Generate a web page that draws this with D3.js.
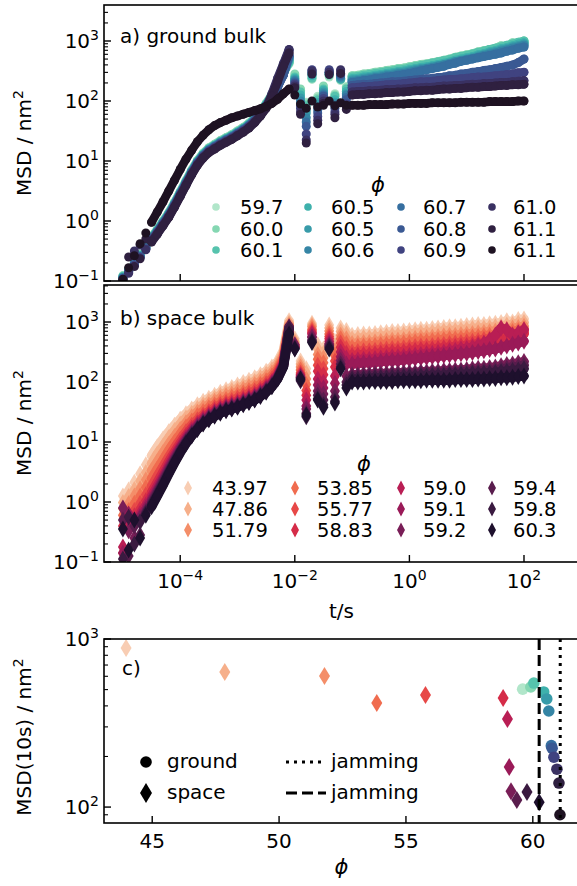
<!DOCTYPE html>
<html lang="en">
<head>
<meta charset="UTF-8">
<title>MSD ground vs space</title>
<script src="https://d3js.org/d3.v7.min.js"></script>
<style>
  body { margin: 0; background: #fff; }
  text { font-family: "DejaVu Sans", sans-serif; fill: #000; }
</style>
</head>
<body>
<div id="chart"></div>
<script>
// ---- DATA ----
// log10 of lag time t/s, shared by all curves
const logTime = [-5.0,-4.9,-4.8,-4.7,-4.6,-4.5,-4.4,-4.3,-4.2,-4.1,-4.0,-3.9,-3.8,-3.7,-3.6,-3.5,-3.4,-3.3,-3.2,-3.1,
  -3.0,-2.9,-2.8,-2.7,-2.6,-2.5,-2.4,-2.3,-2.2,-2.1,-2.0,-1.9,-1.8,-1.7,-1.6,-1.5,-1.4,-1.3,-1.2,-1.1,
  -1.0,-0.9,-0.8,-0.7,-0.6,-0.5,-0.4,-0.3,-0.2,-0.1,0.0,0.1,0.2,0.3,0.4,0.5,0.6,0.7,0.8,0.9,
  1.0,1.1,1.2,1.3,1.4,1.5,1.6,1.7,1.8,1.9,2.0];

// ground bulk, log10(MSD / nm^2)
const ground1 = [-0.92,-0.81,-0.69,-0.56,-0.42,-0.28,-0.15,-0.01,0.13,0.30,0.48,0.66,0.84,1.00,1.12,1.21,1.27,1.33,1.38,1.43,1.49,1.55,1.62,1.71,1.82,1.95,2.10,2.27,2.47,
  2.62,2.42,2.18,1.98,2.36,2.08,2.22,2.40,2.12,2.34,2.24,
  2.40,2.41,2.43,2.44,2.46,2.47,2.49,2.50,2.52,2.53,2.55,2.57,2.59,2.60,2.62,2.64,2.66,2.68,2.71,2.73,2.75,2.77,2.80,2.82,2.84,2.87,2.90,2.88,2.94,2.96,2.98];
const ground2 = [-0.91,-0.80,-0.68,-0.55,-0.41,-0.27,-0.14,0.00,0.14,0.31,0.49,0.67,0.85,1.01,1.13,1.22,1.28,1.34,1.39,1.44,1.50,1.56,1.63,1.72,1.83,1.96,2.11,2.28,2.48,
  2.66,2.45,2.20,1.95,2.40,2.05,2.25,2.42,2.10,2.36,2.22,
  2.42,2.43,2.45,2.46,2.48,2.49,2.51,2.52,2.54,2.55,2.57,2.59,2.61,2.62,2.64,2.66,2.68,2.70,2.73,2.75,2.77,2.79,2.82,2.84,2.86,2.88,2.92,2.90,2.97,2.95,3.00];
const ground3 = [-0.93,-0.82,-0.70,-0.57,-0.43,-0.29,-0.16,-0.02,0.12,0.29,0.47,0.65,0.83,0.99,1.11,1.20,1.26,1.32,1.37,1.42,1.48,1.54,1.61,1.70,1.81,1.94,2.09,2.26,2.46,
  2.64,2.40,2.15,1.92,2.38,2.02,2.20,2.44,2.08,2.38,2.20,
  2.40,2.41,2.43,2.44,2.46,2.47,2.49,2.50,2.52,2.53,2.55,2.57,2.59,2.61,2.63,2.65,2.67,2.69,2.72,2.74,2.76,2.78,2.81,2.83,2.86,2.88,2.90,2.93,2.95,2.98,3.00];
const ground4 = [-0.93,-0.82,-0.70,-0.57,-0.43,-0.29,-0.16,-0.02,0.12,0.29,0.47,0.65,0.83,0.99,1.11,1.20,1.26,1.32,1.37,1.42,1.48,1.54,1.61,1.70,1.81,1.94,2.09,2.26,2.46,
  2.68,2.38,2.10,1.85,2.42,1.98,2.18,2.45,2.02,2.36,2.16,
  2.37,2.38,2.40,2.41,2.43,2.44,2.46,2.47,2.49,2.50,2.52,2.54,2.56,2.57,2.59,2.61,2.63,2.65,2.68,2.70,2.72,2.74,2.77,2.79,2.82,2.84,2.87,2.89,2.92,2.95,2.97];
const ground5 = [-0.94,-0.83,-0.71,-0.58,-0.44,-0.30,-0.17,-0.03,0.11,0.28,0.46,0.64,0.82,0.98,1.10,1.19,1.25,1.31,1.36,1.41,1.47,1.53,1.60,1.69,1.80,1.93,2.08,2.25,2.45,
  2.70,2.36,2.05,1.80,2.44,1.95,2.15,2.46,1.98,2.38,2.12,
  2.35,2.36,2.38,2.39,2.41,2.42,2.44,2.45,2.47,2.48,2.50,2.52,2.54,2.55,2.57,2.59,2.61,2.63,2.66,2.68,2.70,2.72,2.75,2.77,2.80,2.82,2.85,2.87,2.90,2.92,2.95];
const ground6 = [-0.95,-0.84,-0.72,-0.59,-0.45,-0.31,-0.18,-0.04,0.10,0.27,0.45,0.63,0.81,0.97,1.09,1.18,1.24,1.30,1.35,1.40,1.46,1.52,1.59,1.68,1.79,1.92,2.07,2.24,2.44,
  2.72,2.34,2.00,1.72,2.46,1.90,2.12,2.47,1.95,2.40,2.10,
  2.33,2.34,2.36,2.37,2.39,2.40,2.42,2.43,2.45,2.46,2.48,2.50,2.52,2.54,2.56,2.58,2.60,2.62,2.65,2.67,2.69,2.71,2.73,2.76,2.78,2.80,2.83,2.85,2.88,2.90,2.93];
const ground7 = [-0.95,-0.84,-0.72,-0.59,-0.45,-0.31,-0.18,-0.04,0.10,0.27,0.45,0.63,0.81,0.97,1.09,1.18,1.24,1.30,1.35,1.40,1.46,1.52,1.59,1.68,1.79,1.92,2.07,2.24,2.44,
  2.74,2.32,1.96,1.65,2.48,1.85,2.10,2.48,1.92,2.42,2.06,
  2.31,2.32,2.34,2.35,2.37,2.38,2.40,2.41,2.43,2.44,2.46,2.48,2.50,2.52,2.54,2.56,2.58,2.61,2.63,2.66,2.68,2.70,2.72,2.74,2.76,2.78,2.80,2.83,2.85,2.88,2.90];
const ground8 = [-0.96,-0.85,-0.73,-0.60,-0.46,-0.32,-0.19,-0.05,0.09,0.26,0.44,0.62,0.80,0.96,1.08,1.17,1.23,1.29,1.34,1.39,1.45,1.51,1.58,1.67,1.78,1.91,2.06,2.23,2.43,
  2.76,2.30,1.92,1.58,2.50,1.80,2.08,2.50,1.88,2.44,2.02,
  2.26,2.27,2.28,2.28,2.29,2.30,2.31,2.32,2.32,2.33,2.34,2.35,2.36,2.37,2.38,2.39,2.40,2.42,2.43,2.45,2.46,2.48,2.49,2.51,2.52,2.54,2.56,2.58,2.60,2.64,2.70];
const ground9 = [-0.97,-0.86,-0.74,-0.61,-0.47,-0.33,-0.20,-0.06,0.08,0.25,0.43,0.61,0.79,0.95,1.07,1.16,1.22,1.28,1.33,1.38,1.44,1.50,1.57,1.66,1.77,1.90,2.10,2.35,2.60,
  2.84,2.28,1.88,1.45,2.52,1.74,2.04,2.52,1.82,2.50,1.95,
  2.22,2.23,2.24,2.24,2.25,2.26,2.27,2.28,2.28,2.29,2.30,2.31,2.32,2.32,2.33,2.34,2.35,2.36,2.36,2.37,2.38,2.39,2.40,2.40,2.41,2.42,2.43,2.44,2.45,2.47,2.48];
const ground10 = [-0.98,-0.87,-0.50,-0.40,-0.48,-0.34,-0.21,-0.07,0.07,0.24,0.42,0.60,0.78,0.94,1.06,1.15,1.21,1.27,1.32,1.37,1.43,1.49,1.56,1.65,1.76,1.89,2.12,2.38,2.62,
  2.86,2.25,1.82,1.35,2.50,1.68,2.00,2.48,1.78,2.52,1.90,
  2.15,2.16,2.16,2.17,2.17,2.18,2.19,2.19,2.20,2.20,2.21,2.22,2.22,2.23,2.23,2.24,2.25,2.25,2.26,2.26,2.27,2.28,2.28,2.29,2.29,2.30,2.31,2.31,2.32,2.33,2.34];
const ground11 = [-0.99,-0.60,-0.76,-0.63,-0.30,-0.35,-0.22,-0.08,0.06,0.23,0.41,0.59,0.77,0.93,1.05,1.14,1.20,1.26,1.31,1.36,1.42,1.48,1.55,1.64,1.75,1.88,2.08,2.32,2.58,
  2.80,2.22,1.78,1.30,2.45,1.62,1.96,2.44,1.72,2.46,1.86,
  2.10,2.11,2.11,2.12,2.12,2.13,2.14,2.14,2.15,2.15,2.16,2.17,2.17,2.18,2.18,2.19,2.20,2.20,2.21,2.21,2.22,2.23,2.23,2.24,2.24,2.25,2.26,2.26,2.27,2.27,2.28];
const ground12 = [-0.97,-0.78,-0.58,-0.38,-0.20,-0.02,0.15,0.32,0.50,0.68,0.86,1.03,1.18,1.32,1.43,1.52,1.59,1.64,1.68,1.72,1.75,1.78,1.81,1.84,1.87,1.91,1.96,2.03,2.12,
  2.20,2.10,1.95,1.88,2.00,1.90,1.93,2.00,1.92,1.97,1.93,
  1.93,1.93,1.93,1.94,1.94,1.94,1.94,1.95,1.95,1.95,1.96,1.96,1.96,1.96,1.97,1.97,1.97,1.97,1.97,1.98,1.98,1.98,1.98,1.98,1.99,1.99,1.99,1.99,1.99,2.00,2.00];

// space bulk, log10(MSD / nm^2)
const space1 = [0.10,0.20,0.33,0.47,0.62,0.77,0.92,1.05,1.17,1.28,1.38,1.47,1.55,1.62,1.68,1.73,1.78,1.83,1.87,1.91,1.95,1.99,2.03,2.07,2.12,2.18,2.25,2.34,2.52,
  3.02,2.72,2.35,2.22,2.98,2.62,2.55,2.95,2.68,2.90,2.86,
  2.78,2.79,2.80,2.80,2.81,2.82,2.83,2.84,2.84,2.85,2.86,2.87,2.88,2.88,2.89,2.90,2.91,2.92,2.92,2.93,2.94,2.95,2.96,2.96,2.97,2.98,2.99,3.02,3.00,3.04,3.05];
const space2 = [-0.01,0.09,0.21,0.35,0.49,0.64,0.80,0.93,1.07,1.19,1.30,1.40,1.48,1.56,1.62,1.68,1.73,1.78,1.82,1.86,1.89,1.93,1.97,2.01,2.07,2.13,2.20,2.30,2.48,
  2.98,2.68,2.30,2.15,2.95,2.55,2.48,2.90,2.60,2.84,2.80,
  2.72,2.73,2.74,2.74,2.75,2.76,2.77,2.78,2.78,2.79,2.80,2.81,2.82,2.82,2.83,2.84,2.85,2.86,2.86,2.87,2.88,2.89,2.90,2.90,2.91,2.92,2.93,2.95,2.96,2.98,2.99];
const space3 = [-0.11,-0.03,0.10,0.22,0.37,0.52,0.67,0.82,0.96,1.09,1.21,1.32,1.42,1.50,1.57,1.62,1.68,1.73,1.77,1.80,1.84,1.88,1.92,1.96,2.01,2.08,2.15,2.25,2.44,
  2.95,2.65,2.25,2.05,2.92,2.46,2.40,2.85,2.52,2.78,2.72,
  2.64,2.65,2.66,2.66,2.67,2.68,2.69,2.70,2.70,2.71,2.72,2.73,2.74,2.74,2.75,2.76,2.77,2.78,2.78,2.79,2.80,2.81,2.82,2.83,2.84,2.85,2.87,2.88,2.90,2.91,2.93];
const space4 = [-0.22,-0.14,-0.02,0.10,0.24,0.39,0.55,0.70,0.86,1.00,1.13,1.25,1.35,1.44,1.51,1.57,1.62,1.67,1.71,1.75,1.78,1.82,1.86,1.90,1.96,2.02,2.10,2.21,2.40,
  2.92,2.62,2.20,1.96,2.88,2.38,2.32,2.80,2.44,2.72,2.64,
  2.58,2.59,2.60,2.60,2.61,2.62,2.63,2.64,2.64,2.65,2.66,2.67,2.68,2.68,2.69,2.70,2.71,2.72,2.72,2.73,2.74,2.75,2.76,2.77,2.78,2.79,2.81,2.82,2.84,2.86,2.88];
const space5 = [-0.85,-0.25,-0.14,-0.02,0.12,0.26,0.43,0.59,0.75,0.90,1.04,1.17,1.28,1.37,1.45,1.51,1.57,1.62,1.66,1.69,1.73,1.77,1.81,1.85,1.90,1.97,2.05,2.17,2.36,
  2.90,2.60,2.15,1.86,2.85,2.28,2.22,2.76,2.35,2.65,2.56,
  2.50,2.51,2.52,2.52,2.53,2.54,2.55,2.56,2.56,2.57,2.58,2.59,2.60,2.60,2.61,2.62,2.63,2.64,2.65,2.66,2.67,2.68,2.69,2.71,2.72,2.73,2.75,2.77,2.79,2.81,2.83];
const space6 = [-0.40,-0.34,-0.23,-0.12,0.02,0.16,0.33,0.50,0.67,0.83,0.98,1.11,1.23,1.32,1.41,1.47,1.53,1.58,1.62,1.65,1.68,1.72,1.76,1.80,1.86,1.93,2.01,2.13,2.33,
  2.88,2.58,2.12,1.78,2.82,2.18,2.12,2.72,2.25,2.58,2.48,
  2.44,2.45,2.46,2.46,2.47,2.48,2.49,2.50,2.50,2.51,2.52,2.53,2.54,2.54,2.55,2.56,2.57,2.58,2.59,2.60,2.61,2.62,2.64,2.65,2.67,2.68,2.70,2.73,2.75,2.78,2.80];
const space7 = [-0.75,-0.30,-0.29,-0.19,-0.05,0.09,0.26,0.43,0.61,0.78,0.93,1.07,1.19,1.29,1.38,1.44,1.50,1.55,1.59,1.62,1.65,1.69,1.73,1.77,1.83,1.90,1.99,2.11,2.30,
  2.86,2.60,2.10,1.70,2.80,2.05,2.00,2.68,2.10,2.50,2.40,
  2.36,2.37,2.38,2.38,2.39,2.40,2.41,2.42,2.42,2.43,2.44,2.45,2.46,2.47,2.48,2.49,2.50,2.52,2.53,2.55,2.56,2.58,2.61,2.64,2.70,2.78,2.90,2.87,2.78,2.82,2.87];
const space8 = [-0.85,-0.20,-0.34,-0.24,-0.10,0.04,0.21,0.39,0.57,0.74,0.90,1.04,1.16,1.27,1.35,1.42,1.48,1.53,1.57,1.60,1.63,1.67,1.71,1.75,1.81,1.88,1.97,2.09,2.29,
  2.85,2.58,2.08,1.60,2.76,1.95,1.90,2.64,1.98,2.42,2.30,
  2.30,2.31,2.32,2.32,2.33,2.34,2.35,2.36,2.36,2.37,2.38,2.39,2.40,2.41,2.42,2.43,2.44,2.45,2.46,2.47,2.48,2.49,2.51,2.52,2.54,2.55,2.58,2.60,2.63,2.65,2.68];
const space9 = [-0.10,-0.48,-0.60,-0.27,-0.14,0.01,0.18,0.36,0.54,0.71,0.88,1.02,1.15,1.25,1.34,1.41,1.47,1.52,1.56,1.59,1.62,1.66,1.70,1.74,1.80,1.87,1.95,2.08,2.28,
  2.90,2.62,2.08,1.55,2.74,1.85,1.80,2.62,1.85,2.36,2.10,
  2.12,2.12,2.13,2.13,2.14,2.14,2.14,2.15,2.15,2.16,2.16,2.16,2.17,2.17,2.18,2.18,2.19,2.19,2.20,2.20,2.21,2.22,2.23,2.23,2.24,2.25,2.27,2.29,2.30,2.32,2.34];
const space10 = [-0.30,-0.90,-0.40,-0.55,-0.17,-0.03,0.15,0.33,0.51,0.69,0.85,1.00,1.13,1.23,1.32,1.39,1.45,1.50,1.54,1.57,1.60,1.64,1.68,1.72,1.78,1.85,1.94,2.07,2.27,
  2.92,2.58,2.05,1.48,2.70,1.78,1.70,2.60,1.75,2.30,2.00,
  2.09,2.09,2.10,2.10,2.11,2.11,2.11,2.12,2.12,2.13,2.13,2.13,2.14,2.14,2.15,2.15,2.15,2.16,2.16,2.17,2.17,2.18,2.18,2.19,2.19,2.20,2.22,2.23,2.25,2.26,2.28];
const space11 = [-0.95,-0.25,-0.70,-0.33,-0.19,-0.05,0.12,0.30,0.49,0.67,0.84,0.99,1.11,1.22,1.31,1.38,1.44,1.49,1.53,1.56,1.59,1.63,1.67,1.71,1.77,1.84,1.93,2.06,2.26,
  2.88,2.56,2.02,1.42,2.68,1.72,1.62,2.58,1.68,2.25,1.95,
  2.05,2.05,2.06,2.06,2.07,2.07,2.07,2.08,2.08,2.09,2.09,2.09,2.10,2.10,2.11,2.11,2.11,2.12,2.12,2.13,2.13,2.14,2.14,2.15,2.15,2.16,2.17,2.18,2.19,2.20,2.22];
const space12 = [-0.45,-0.80,-0.30,-0.60,-0.22,-0.08,0.10,0.28,0.47,0.65,0.82,0.97,1.10,1.21,1.30,1.37,1.43,1.48,1.52,1.55,1.58,1.62,1.66,1.70,1.76,1.83,1.92,2.05,2.25,
  2.80,2.55,2.05,1.45,2.66,1.70,1.58,2.55,1.65,2.22,1.90,
  2.00,2.00,2.00,2.01,2.01,2.01,2.01,2.01,2.02,2.02,2.02,2.02,2.02,2.03,2.03,2.03,2.03,2.03,2.04,2.04,2.04,2.04,2.05,2.05,2.06,2.06,2.07,2.07,2.08,2.09,2.10];

// legend labels (phi)
const groundLabels = ["59.7","60.0","60.1","60.5","60.5","60.6","60.7","60.8","60.9","61.0","61.1","61.1"];
const spaceLabels = ["43.97","47.86","51.79","53.85","55.77","58.83","59.0","59.1","59.2","59.4","59.8","60.3"];

// panel c: MSD at 10 s against phi
const groundPhi = [59.60,59.92,60.04,60.43,60.55,60.63,60.73,60.76,60.83,60.95,61.03,61.07];
const groundMsd10 = [503,518,547,484,440,373,232,224,198,168,139,90];
const spacePhi = [43.97,47.86,51.79,53.85,55.77,58.83,59.0,59.07,59.14,59.37,59.77,60.25];
const spaceMsd10 = [884,637,603,416,464,446,334,173,124,110,123,107];
const jamGround = 61.08;
const jamSpace = 60.25;

// colours (mako_r / rocket_r, 12 steps)
const groundColors = ["#b1e6ca","#85d7b2","#56c3ad","#3eb1ac","#389ba9","#3585a5","#366fa0","#3a5993","#404380","#3a3162","#2f2040","#1e1222"];
const spaceColors = ["#f8cdb3","#f6af8a","#f48e69","#f06c4f","#e74847","#d52c48","#b91e54","#9a1a58","#791e57","#591d4d","#3a1a40","#1e102d"];

const groundSeries = [ground1,ground2,ground3,ground4,ground5,ground6,ground7,ground8,ground9,ground10,ground11,ground12];
const spaceSeries = [space1,space2,space3,space4,space5,space6,space7,space8,space9,space10,space11,space12];

// ---- LAYOUT ----
const W = 577, H = 886;
const left = 104, right = 579;
const svg = d3.select("#chart").append("svg").attr("width", W).attr("height", H);

const x = d3.scaleLog().domain([Math.pow(10, -5.33), Math.pow(10, 2.96)]).range([left, right]);
const yA = d3.scaleLog().domain([0.1, Math.pow(10, 3.6)]).range([281, 5]);
const yB = d3.scaleLog().domain([0.1, Math.pow(10, 3.617)]).range([562, 285]);
const xC = d3.scaleLinear().domain([43.1, 61.82]).range([left, right]);
const yC = d3.scaleLog().domain([80.4, 1000]).range([823, 639]);

function powText(sel, e) {
  sel.append("tspan").text("10");
  sel.append("tspan").attr("dy", -8).attr("font-size", 14).text(e < 0 ? "\u2212" + (-e) : String(e));
}

function diamond(w, h) { return "M0," + (-h) + "L" + w + ",0L0," + h + "L" + (-w) + ",0Z"; }

// log y axis with inward ticks on the left spine
function logYAxis(y, lo, hi) {
  const g = svg.append("g");
  const [d0, d1] = y.domain();
  for (let e = lo; e <= hi; e++) {
    for (let k = 1; k <= 9; k++) {
      const v = k * Math.pow(10, e);
      if (v < d0 * 0.999 || v > d1 * 1.001) continue;
      const yy = y(v);
      g.append("line").attr("x1", left).attr("x2", left + (k === 1 ? 7 : 4))
        .attr("y1", yy).attr("y2", yy).attr("stroke", "#000").attr("stroke-width", k === 1 ? 1.4 : 1.1);
      if (k === 1) {
        powText(g.append("text").attr("x", 99).attr("y", yy + 7).attr("text-anchor", "end").attr("font-size", 20), e);
      }
    }
  }
}

function frame(top, bottom) {
  svg.append("rect").attr("x", left).attr("y", top).attr("width", right - left + 5).attr("height", bottom - top)
    .attr("fill", "none").attr("stroke", "#000").attr("stroke-width", 1.6);
}

function clip(id, top, bottom) {
  svg.append("clipPath").attr("id", id).append("rect")
    .attr("x", left).attr("y", top).attr("width", right - left).attr("height", bottom - top);
}

function timeTicks(bottom, withLabels) {
  [-4, -2, 0, 2].forEach(e => {
    const xx = x(Math.pow(10, e));
    svg.append("line").attr("x1", xx).attr("x2", xx).attr("y1", bottom).attr("y2", bottom - 7)
      .attr("stroke", "#000").attr("stroke-width", 1.4);
    if (withLabels) {
      powText(svg.append("text").attr("x", xx).attr("y", 588).attr("text-anchor", "middle").attr("font-size", 20), e);
    }
  });
}

function yLabel(text, cy, sup) {
  const t = svg.append("text").attr("transform", "translate(31," + cy + ") rotate(-90)")
    .attr("text-anchor", "middle").attr("font-size", 20);
  t.append("tspan").text(text);
  t.append("tspan").attr("dy", -8).attr("font-size", 14).text(sup);
}

// draw the MSD curves of one panel
function drawCurves(series, colors, y, clipId, shape) {
  const g = svg.append("g").attr("clip-path", "url(#" + clipId + ")");
  series.forEach((vals, s) => {
    const pts = vals.map((v, i) => ({ t: Math.pow(10, logTime[i]), m: Math.pow(10, v), i: i }));
    const line = d3.line()
      .defined(d => (d.i >= 5 && d.i <= 29) || d.i >= 40)
      .x(d => x(d.t)).y(d => y(d.m));
    g.append("path").datum(pts).attr("d", line).attr("fill", "none")
      .attr("stroke", colors[s]).attr("stroke-width", shape === "circle" ? 8.6 : 9.5)
      .attr("stroke-linejoin", "round").attr("stroke-linecap", "round");
    if (shape === "circle") {
      g.selectAll(null).data(pts).enter().append("circle")
        .attr("cx", d => x(d.t)).attr("cy", d => y(d.m)).attr("r", 4.5).attr("fill", colors[s]);
    } else {
      g.selectAll(null).data(pts).enter().append("path")
        .attr("d", diamond(5, 8.5))
        .attr("transform", d => "translate(" + x(d.t) + "," + y(d.m) + ")").attr("fill", colors[s]);
    }
  });
}

function legend(labels, colors, shape, titleX, titleY, markX, textX, rows) {
  svg.append("text").attr("x", titleX).attr("y", titleY).attr("text-anchor", "middle")
    .attr("font-size", 21).attr("font-style", "italic").text("\u03d5");
  labels.forEach((lab, i) => {
    const c = Math.floor(i / 3), r = i % 3;
    if (shape === "circle") {
      svg.append("circle").attr("cx", markX[c]).attr("cy", rows[r]).attr("r", 3.8).attr("fill", colors[i]);
    } else {
      svg.append("path").attr("d", diamond(4, 7.5))
        .attr("transform", "translate(" + markX[c] + "," + rows[r] + ")").attr("fill", colors[i]);
    }
    svg.append("text").attr("x", textX[c]).attr("y", rows[r] + 7).attr("font-size", 19.5).text(lab);
  });
}

// ---- PANEL A ----
clip("clipA", 5, 281);
drawCurves(groundSeries, groundColors, yA, "clipA", "circle");
frame(5, 281);
logYAxis(yA, -1, 3);
timeTicks(281, false);
yLabel("MSD / nm", 143, "2");
svg.append("text").attr("x", 120).attr("y", 43).attr("font-size", 20).text("a) ground bulk");
legend(groundLabels, groundColors, "circle", 378, 192, [216, 308, 401, 492], [240, 331, 423, 513], [207, 229, 250]);

// ---- PANEL B ----
clip("clipB", 285, 562);
drawCurves(spaceSeries, spaceColors, yB, "clipB", "diamond");
frame(285, 562);
logYAxis(yB, -1, 3);
timeTicks(562, true);
yLabel("MSD / nm", 423, "2");
svg.append("text").attr("x", 120).attr("y", 325).attr("font-size", 20).text("b) space bulk");
legend(spaceLabels, spaceColors, "diamond", 364, 471, [188, 295, 401, 492], [212, 317, 423, 513], [488, 509, 530]);
svg.append("text").attr("x", (left + right) / 2).attr("y", 618).attr("text-anchor", "middle")
  .attr("font-size", 20).text("t/s");

// ---- PANEL C ----
const gc = svg.append("g");
spacePhi.forEach((p, i) => {
  gc.append("path").attr("d", diamond(5.5, 9))
    .attr("transform", "translate(" + xC(p) + "," + yC(spaceMsd10[i]) + ")").attr("fill", spaceColors[i]);
});
groundPhi.forEach((p, i) => {
  gc.append("circle").attr("cx", xC(p)).attr("cy", yC(groundMsd10[i])).attr("r", 5.8).attr("fill", groundColors[i]);
});
gc.append("line").attr("x1", xC(jamGround)).attr("x2", xC(jamGround)).attr("y1", 639).attr("y2", 823)
  .attr("stroke", "#000").attr("stroke-width", 3).attr("stroke-dasharray", "3,5");
gc.append("line").attr("x1", xC(jamSpace)).attr("x2", xC(jamSpace)).attr("y1", 639).attr("y2", 823)
  .attr("stroke", "#000").attr("stroke-width", 3).attr("stroke-dasharray", "11,5");
frame(639, 823);
logYAxis(yC, 1, 3);
[45, 50, 55, 60].forEach(v => {
  svg.append("line").attr("x1", xC(v)).attr("x2", xC(v)).attr("y1", 823).attr("y2", 816)
    .attr("stroke", "#000").attr("stroke-width", 1.4);
  svg.append("text").attr("x", xC(v)).attr("y", 848).attr("text-anchor", "middle").attr("font-size", 20).text(v);
});
yLabel("MSD(10s) / nm", 737, "2");
svg.append("text").attr("x", (left + right) / 2).attr("y", 874).attr("text-anchor", "middle")
  .attr("font-size", 21).attr("font-style", "italic").text("\u03d5");
svg.append("text").attr("x", 122).attr("y", 675).attr("font-size", 20).text("c)");

// panel c legend
svg.append("circle").attr("cx", 146).attr("cy", 762).attr("r", 5.8).attr("fill", "#000");
svg.append("path").attr("d", diamond(6, 10)).attr("transform", "translate(146,793)").attr("fill", "#000");
svg.append("text").attr("x", 167).attr("y", 768).attr("font-size", 20).text("ground");
svg.append("text").attr("x", 167).attr("y", 799).attr("font-size", 20).text("space");
svg.append("line").attr("x1", 286).attr("x2", 326).attr("y1", 762).attr("y2", 762)
  .attr("stroke", "#000").attr("stroke-width", 3).attr("stroke-dasharray", "3,5");
svg.append("line").attr("x1", 286).attr("x2", 326).attr("y1", 793).attr("y2", 793)
  .attr("stroke", "#000").attr("stroke-width", 3).attr("stroke-dasharray", "11,5");
svg.append("text").attr("x", 331).attr("y", 768).attr("font-size", 20).text("jamming");
svg.append("text").attr("x", 331).attr("y", 799).attr("font-size", 20).text("jamming");
</script>
</body>
</html>
